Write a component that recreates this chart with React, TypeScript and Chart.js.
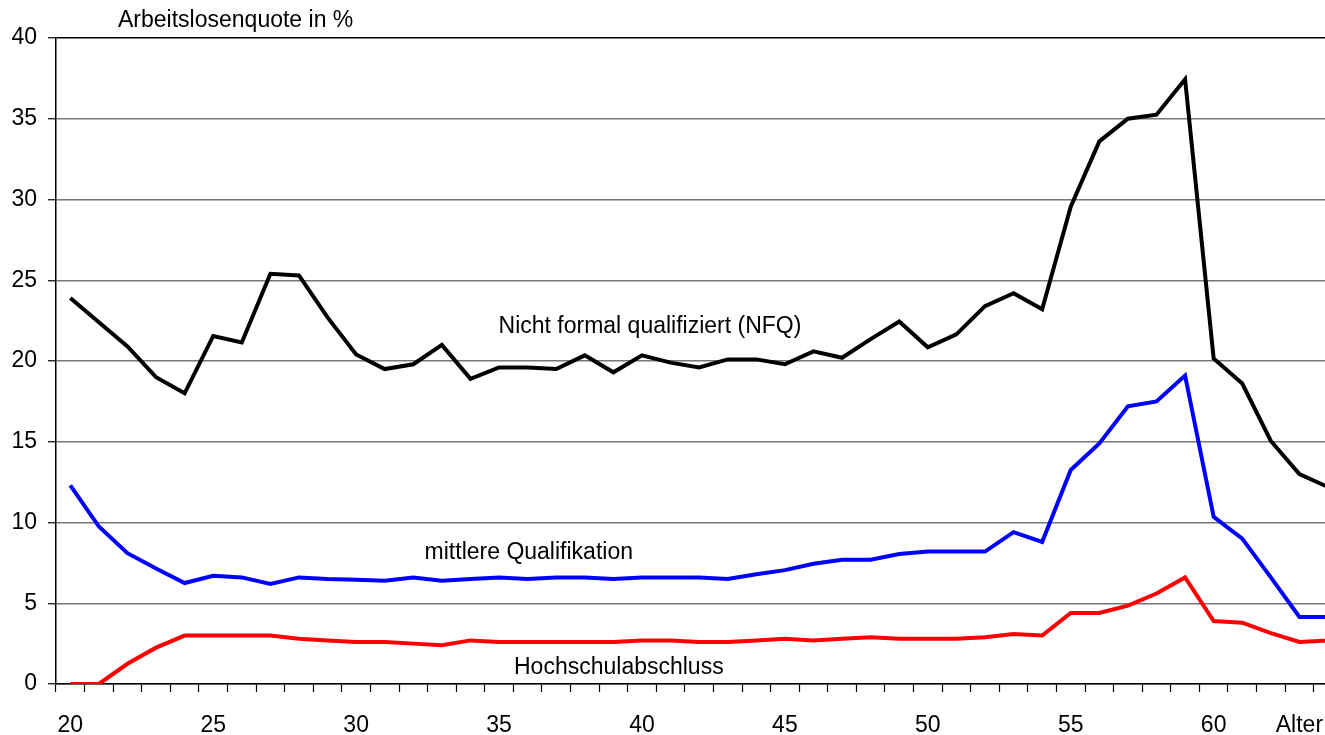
import React, { useEffect, useRef } from "react";
import { Chart, registerables } from "chart.js";

Chart.register(...registerables);

const ages = [
  "20", "21", "22", "23", "24", "25", "26", "27", "28", "29",
  "30", "31", "32", "33", "34", "35", "36", "37", "38", "39",
  "40", "41", "42", "43", "44", "45", "46", "47", "48", "49",
  "50", "51", "52", "53", "54", "55", "56", "57", "58", "59",
  "60", "61", "62", "63", "64",
];

const shownTickLabels = ["20", "25", "30", "35", "40", "45", "50", "55", "60"];
const axisTitleAge = "63";
const xAxisTitle = "Alter";
const yAxisTitle = "Arbeitslosenquote in %";

const nfq = [
  23.9, 22.4, 20.9, 19.0, 18.0, 21.55, 21.15, 25.4, 25.3, 22.7,
  20.4, 19.5, 19.8, 21.0, 18.9, 19.6, 19.6, 19.5, 20.35, 19.3,
  20.35, 19.9, 19.6, 20.1, 20.1, 19.8, 20.6, 20.2, 21.35, 22.45,
  20.85, 21.65, 23.4, 24.2, 23.2, 29.55, 33.6, 35.0, 35.25, 37.45,
  20.15, 18.6, 15.05, 13.0, 12.2,
];

const mittlere = [
  12.3, 9.75, 8.1, 7.15, 6.25, 6.7, 6.6, 6.2, 6.6, 6.5,
  6.45, 6.4, 6.6, 6.4, 6.5, 6.6, 6.5, 6.6, 6.6, 6.5,
  6.6, 6.6, 6.6, 6.5, 6.8, 7.05, 7.45, 7.7, 7.7, 8.05,
  8.2, 8.2, 8.2, 9.4, 8.8, 13.25, 14.9, 17.2, 17.5, 19.1,
  10.35, 9.0, 6.6, 4.15, 4.15,
];

const hochschule = [
  0, 0, 1.25, 2.25, 3.0, 3.0, 3.0, 3.0, 2.8, 2.7,
  2.6, 2.6, 2.5, 2.4, 2.7, 2.6, 2.6, 2.6, 2.6, 2.6,
  2.7, 2.7, 2.6, 2.6, 2.7, 2.8, 2.7, 2.8, 2.9, 2.8,
  2.8, 2.8, 2.9, 3.1, 3.0, 4.4, 4.4, 4.85, 5.6, 6.6,
  3.9, 3.8, 3.15, 2.6, 2.7,
];

const seriesNames = [
  "Nicht formal qualifiziert (NFQ)",
  "mittlere Qualifikation",
  "Hochschulabschluss",
];

const FONT = "'Liberation Sans', Arial, sans-serif";

// text annotations, anchored in data coordinates (category index, value)
const annotations = [
  { text: seriesNames[0], xi: 20.28, yv: 21.72, align: "center" },
  { text: seriesNames[1], xi: 16.04, yv: 7.72, align: "center" },
  { text: seriesNames[2], xi: 19.19, yv: 0.6, align: "center" },
  { text: yAxisTitle, xi: 1.67, yv: 40.68, align: "left" },
];

const textPlugin = {
  id: "textAnnotations",
  afterDraw(chart: any) {
    const ctx = chart.ctx;
    const xs = chart.scales.x;
    const ys = chart.scales.y;
    ctx.save();
    ctx.fillStyle = "#000";
    ctx.font = `23px ${FONT}`;
    ctx.textBaseline = "alphabetic";
    for (const a of annotations) {
      ctx.textAlign = a.align as CanvasTextAlign;
      ctx.fillText(a.text, xs.getPixelForValue(a.xi), ys.getPixelForValue(a.yv));
    }
    ctx.restore();
  },
};

export default function App() {
  const ref = useRef<HTMLCanvasElement | null>(null);

  useEffect(() => {
    if (!ref.current) return;
    const chart = new Chart(ref.current, {
      type: "line",
      data: {
        labels: ages,
        datasets: [
          { label: seriesNames[0], data: nfq, borderColor: "#000000", backgroundColor: "#000000" },
          { label: seriesNames[1], data: mittlere, borderColor: "#0000ff", backgroundColor: "#0000ff" },
          { label: seriesNames[2], data: hochschule, borderColor: "#ff0000", backgroundColor: "#ff0000" },
        ].map((d) => ({ ...d, borderWidth: 4, pointRadius: 0, tension: 0, fill: false })),
      },
      options: {
        animation: false,
        responsive: false,
        maintainAspectRatio: false,
        layout: { padding: { top: 38, right: 0, left: 0, bottom: 0 } },
        plugins: { legend: { display: false }, tooltip: { enabled: false }, title: { display: false } },
        scales: {
          x: {
            type: "category",
            offset: true,
            afterFit: (s: any) => { s.height = 51; },
            grid: {
              offset: true,
              drawOnChartArea: false,
              drawTicks: true,
              tickLength: 8,
              tickColor: "#000",
              tickWidth: 1.2,
            },
            border: { color: "#000", width: 1.5 },
            ticks: {
              autoSkip: false,
              maxRotation: 0,
              minRotation: 0,
              padding: 20,
              color: "#000",
              font: { family: FONT, size: 23 },
              callback: (_v: any, i: number) => {
                const a = ages[i];
                if (a === axisTitleAge) return xAxisTitle;
                return shownTickLabels.includes(a) ? a : "";
              },
            },
          },
          y: {
            min: 0,
            max: 40,
            afterFit: (s: any) => { s.width = 56; },
            grid: {
              color: (c: any) => (c.tick && c.tick.value === 40 ? "#000" : "#777"),
              lineWidth: 1.5,
              drawTicks: true,
              tickLength: 8,
              tickColor: "#000",
              tickWidth: 1.2,
            },
            border: { color: "#000", width: 1.5 },
            ticks: {
              stepSize: 5,
              padding: 11,
              color: "#000",
              font: { family: FONT, size: 23 },
            },
          },
        },
      },
      plugins: [textPlugin],
    });
    return () => chart.destroy();
  }, []);

  return (
    <div
      style={{
        position: "fixed",
        left: 0,
        top: 0,
        width: 1325,
        height: 735,
        overflow: "hidden",
        background: "#fff",
      }}
    >
      <canvas ref={ref} width={1348} height={735} style={{ display: "block" }} />
    </div>
  );
}
